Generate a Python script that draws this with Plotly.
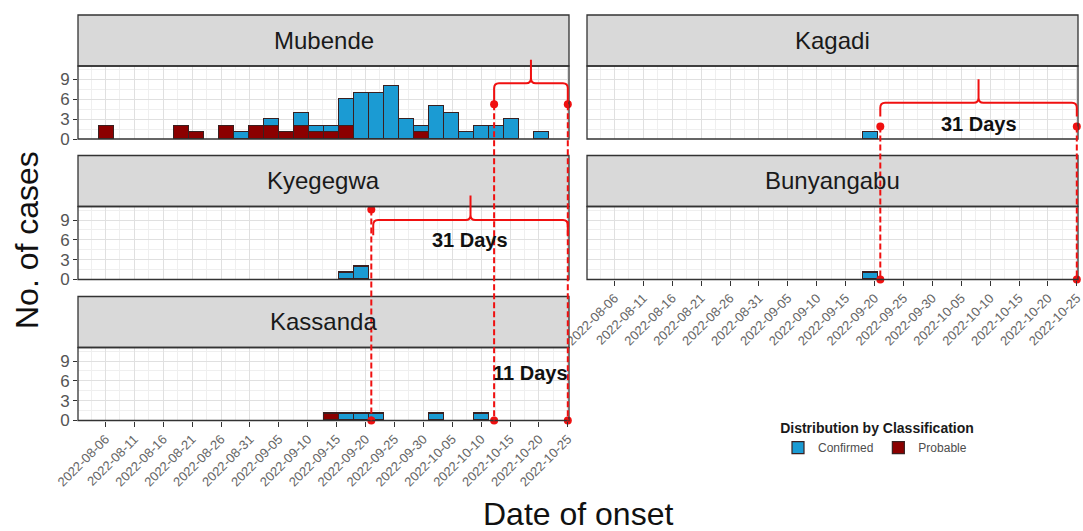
import numpy as np
import pandas as pd
import plotly.graph_objects as go

# ---------------- data ----------------
BIN_FIRST_CENTER = "2022-08-06 02:24"
BIN_WIDTH_DAYS = 2.6
N_BINS = 30

mubende_confirmed = [0, 0, 0, 0, 0, 0, 0, 0, 0, 1, 0, 1, 0, 2, 1, 1, 4, 7, 7, 8, 3, 1, 5, 4, 1, 2, 2, 3, 0, 1]
mubende_probable = [2, 0, 0, 0, 0, 2, 1, 0, 2, 0, 2, 2, 1, 2, 1, 1, 2, 0, 0, 0, 0, 1, 0, 0, 0, 0, 0, 0, 0, 0]
kagadi_confirmed = [0, 0, 0, 0, 0, 0, 0, 0, 0, 0, 0, 0, 0, 0, 0, 0, 0, 1, 0, 0, 0, 0, 0, 0, 0, 0, 0, 0, 0, 0]
kagadi_probable = [0] * 30
kyegegwa_confirmed = [0, 0, 0, 0, 0, 0, 0, 0, 0, 0, 0, 0, 0, 0, 0, 0, 1, 2, 0, 0, 0, 0, 0, 0, 0, 0, 0, 0, 0, 0]
kyegegwa_probable = [0] * 30
bunyangabu_confirmed = [0, 0, 0, 0, 0, 0, 0, 0, 0, 0, 0, 0, 0, 0, 0, 0, 0, 1, 0, 0, 0, 0, 0, 0, 0, 0, 0, 0, 0, 0]
bunyangabu_probable = [0] * 30
kassanda_confirmed = [0, 0, 0, 0, 0, 0, 0, 0, 0, 0, 0, 0, 0, 0, 0, 0, 1, 1, 1, 0, 0, 0, 1, 0, 0, 1, 0, 0, 0, 0]
kassanda_probable = [0, 0, 0, 0, 0, 0, 0, 0, 0, 0, 0, 0, 0, 0, 0, 1, 0, 0, 0, 0, 0, 0, 0, 0, 0, 0, 0, 0, 0, 0]

districts = ["Mubende", "Kagadi", "Kyegegwa", "Bunyangabu", "Kassanda"]
confirmed = {"Mubende": mubende_confirmed, "Kagadi": kagadi_confirmed, "Kyegegwa": kyegegwa_confirmed,
             "Bunyangabu": bunyangabu_confirmed, "Kassanda": kassanda_confirmed}
probable = {"Mubende": mubende_probable, "Kagadi": kagadi_probable, "Kyegegwa": kyegegwa_probable,
            "Bunyangabu": bunyangabu_probable, "Kassanda": kassanda_probable}

# markers at the ends of the dashed reference lines
marker_dates = {"Mubende": ["2022-10-12 06:00", "2022-10-25"],
                "Kyegegwa": ["2022-09-21"],
                "Kassanda": ["2022-09-21", "2022-10-12 06:00", "2022-10-25"],
                "Kagadi": ["2022-09-21", "2022-10-25"],
                "Bunyangabu": ["2022-09-21", "2022-10-25"]}
marker_values = {"Mubende": [5.25, 5.25], "Kyegegwa": [10.6], "Kassanda": [0, 0, 0],
                 "Kagadi": [1.9, 1.9], "Bunyangabu": [0, 0]}

# dashed vertical lines: date, top panel, top value, bottom panel
line_dates = ["2022-09-21", "2022-10-12 06:00", "2022-10-25", "2022-09-21", "2022-10-25"]
line_top_panel = ["Kyegegwa", "Mubende", "Mubende", "Kagadi", "Kagadi"]
line_top_value = [10.6, 5.25, 5.25, 1.9, 1.9]
line_bottom_panel = ["Kassanda", "Kassanda", "Kassanda", "Bunyangabu", "Bunyangabu"]

# brackets: panel, start, end, arm end value, bar value, peak value
bracket_panel = ["Mubende", "Kyegegwa", "Kagadi"]
bracket_start = ["2022-10-12 06:00", "2022-09-21 08:00", "2022-09-21"]
bracket_end = ["2022-10-25", "2022-10-25", "2022-10-25"]
bracket_arm = [5.65, 6.7, 3.4]
bracket_bar = [8.45, 9.0, 5.5]
bracket_peak = [12.0, 12.7, 9.05]

# interval labels
label_panel = ["Kyegegwa", "Kagadi", "Kassanda"]
label_text = ["31 Days", "31 Days", "11 Days"]
label_date = ["2022-10-08", "2022-10-08", "2022-10-18 15:00"]
label_value = [6.0, 2.2, 7.2]

# ---------------- styling / layout ----------------
W, H = 1083, 531
FONT = "Liberation Sans, Arial, sans-serif"
C_CONF = "#1b9bd3"
C_PROB = "#8b0000"
C_EDGE = "#3a2020"
RED = "#f01010"
GRID_MAJOR = "#e0e0e0"
GRID_MINOR = "#efefef"
XRANGE = ["2022-08-01 06:00", "2022-10-25 05:00"]
YRANGE = [0, 11.05]
TICK0 = "2022-08-06"
DAY_MS = 86400000

col_px = {"left": (78, 569), "right": (587, 1078)}
row_px = {1: (66, 139), 2: (206.5, 279.5), 3: (347.5, 420.5)}
STRIP_H = 51

panel_pos = {"Mubende": ("left", 1), "Kagadi": ("right", 1), "Kyegegwa": ("left", 2),
             "Bunyangabu": ("right", 2), "Kassanda": ("left", 3)}
axis_id = {"Mubende": "", "Kagadi": "2", "Kyegegwa": "3", "Bunyangabu": "4", "Kassanda": "5"}
bottom_panels = {"Kassanda", "Bunyangabu"}
left_panels = {"Mubende", "Kyegegwa", "Kassanda"}


def xdom(p):
    a, b = col_px[panel_pos[p][0]]
    return [a / W, b / W]


def ydom(p):
    t, b = row_px[panel_pos[p][1]]
    return [1 - b / H, 1 - t / H]


def ypaper(p, v):
    d0, d1 = ydom(p)
    return d0 + (v - YRANGE[0]) / (YRANGE[1] - YRANGE[0]) * (d1 - d0)


centers = pd.Timestamp(BIN_FIRST_CENTER) + pd.to_timedelta(np.arange(N_BINS) * BIN_WIDTH_DAYS, unit="D")
bar_width_ms = BIN_WIDTH_DAYS * DAY_MS

fig = go.Figure()
shown = set()
for p in districts:
    aid = axis_id[p]
    for name, series, color, rank in [("Probable", probable[p], C_PROB, 2), ("Confirmed", confirmed[p], C_CONF, 1)]:
        yv = [v if v else None for v in series]
        fig.add_trace(go.Bar(
            x=centers, y=yv, width=bar_width_ms, name=name, legendgroup=name, legendrank=rank,
            showlegend=(name not in shown and any(series)),
            marker=dict(color=color, line=dict(color=C_EDGE, width=1.2)),
            xaxis="x" + aid, yaxis="y" + aid, hoverinfo="skip"))
        if any(series):
            shown.add(name)
    fig.add_trace(go.Scatter(
        x=marker_dates[p], y=marker_values[p], mode="markers", cliponaxis=False, showlegend=False,
        marker=dict(color=RED, size=8), xaxis="x" + aid, yaxis="y" + aid, hoverinfo="skip"))

layout = dict(
    width=W, height=H, margin=dict(l=0, r=0, t=0, b=0, autoexpand=False),
    paper_bgcolor="white", plot_bgcolor="white", barmode="stack", bargap=0,
    font=dict(family=FONT, color="#1a1a1a"),
    legend=dict(orientation="h", x=877 / W, xanchor="center", y=1 - 415 / H, yanchor="top",
                title=dict(text="<b>Distribution by Classification</b>", side="top center",
                           font=dict(size=14, color="#1a1a1a")),
                font=dict(size=12, color="#4d4d4d"), itemwidth=30, bgcolor="rgba(0,0,0,0)"),
    showlegend=True,
)

shapes = []
annotations = []
for p in districts:
    aid = axis_id[p]
    bottom = p in bottom_panels
    left = p in left_panels
    layout["xaxis" + aid] = dict(
        domain=xdom(p), anchor="y" + aid, type="date", range=XRANGE, tick0=TICK0, dtick=5 * DAY_MS,
        tickformat="%Y-%m-%d", tickangle=-45, showgrid=True, gridcolor=GRID_MAJOR, gridwidth=1,
        minor=dict(tick0=TICK0, dtick=2.5 * DAY_MS, showgrid=True, gridcolor=GRID_MINOR, gridwidth=0.8),
        zeroline=False, showline=False, ticks="outside" if bottom else "", ticklen=5, tickwidth=1.2,
        tickcolor="#333333", showticklabels=bottom, tickfont=dict(size=13, color="#666666", family=FONT),
        ticklabeloverflow="allow", automargin=False, fixedrange=True)
    layout["yaxis" + aid] = dict(
        domain=ydom(p), anchor="x" + aid, range=YRANGE, tick0=0, dtick=3, showgrid=True,
        gridcolor=GRID_MAJOR, gridwidth=1,
        minor=dict(tick0=0, dtick=1.5, showgrid=True, gridcolor=GRID_MINOR, gridwidth=0.8),
        zeroline=False, showline=False, ticks="outside" if left else "", ticklen=4, tickwidth=1.2,
        tickcolor="#333333", showticklabels=left, tickfont=dict(size=17, color="#555555", family=FONT),
        automargin=False, fixedrange=True)
    xr, yr = "x" + aid + " domain", "y" + aid + " domain"
    plot_h = row_px[panel_pos[p][1]][1] - row_px[panel_pos[p][1]][0]
    # strip
    shapes.append(dict(type="rect", xref=xr, yref=yr, x0=0, x1=1, y0=1, y1=1 + STRIP_H / plot_h,
                       fillcolor="#d9d9d9", line=dict(color="#333333", width=1.3), layer="above"))
    # panel border
    shapes.append(dict(type="rect", xref=xr, yref=yr, x0=0, x1=1, y0=0, y1=1,
                       fillcolor="rgba(0,0,0,0)", line=dict(color="#333333", width=1.3), layer="above"))
    annotations.append(dict(text=p, xref=xr, yref=yr, x=0.5, y=1 + (STRIP_H / 2) / plot_h,
                            showarrow=False, font=dict(size=24, color="#1a1a1a", family=FONT),
                            xanchor="center", yanchor="middle"))

# dashed vertical lines
for d, tp, tv, bp in zip(line_dates, line_top_panel, line_top_value, line_bottom_panel):
    shapes.append(dict(type="line", xref="x" + axis_id[bp], yref="paper", x0=d, x1=d,
                       y0=ypaper(tp, tv), y1=ypaper(bp, 0),
                       line=dict(color=RED, width=2, dash="6px,3px"), layer="above"))


def fx(ts):
    return ts.strftime("%Y-%m-%d_%H:%M:%S")


r = pd.Timedelta(hours=20)
dy = 5 / H
for p, s, e, ya, yb, yp in zip(bracket_panel, bracket_start, bracket_end, bracket_arm, bracket_bar, bracket_peak):
    xs, xe = pd.Timestamp(s), pd.Timestamp(e)
    xc = xs + (xe - xs) / 2
    A, B, P = ypaper(p, ya), ypaper(p, yb), ypaper(p, yp)
    path = (f"M{fx(xs)},{A} L{fx(xs)},{B - dy} Q{fx(xs)},{B} {fx(xs + r)},{B} "
            f"L{fx(xc - r)},{B} Q{fx(xc)},{B} {fx(xc)},{B + dy} L{fx(xc)},{P} "
            f"M{fx(xc)},{B + dy} Q{fx(xc)},{B} {fx(xc + r)},{B} "
            f"L{fx(xe - r)},{B} Q{fx(xe)},{B} {fx(xe)},{B - dy} L{fx(xe)},{A}")
    shapes.append(dict(type="path", xref="x" + axis_id[p], yref="paper", path=path,
                       line=dict(color=RED, width=2), layer="above"))

for p, t, d, v in zip(label_panel, label_text, label_date, label_value):
    annotations.append(dict(text=f"<b>{t}</b>", xref="x" + axis_id[p], yref="y" + axis_id[p], x=d, y=v,
                            showarrow=False, font=dict(size=20, color="#111111", family=FONT),
                            xanchor="center", yanchor="middle"))

# axis titles
annotations.append(dict(text="No. of cases", xref="paper", yref="paper", x=27 / W, y=1 - 240 / H,
                        textangle=-90, showarrow=False, font=dict(size=32, color="#111111", family=FONT),
                        xanchor="center", yanchor="middle"))
annotations.append(dict(text="Date of onset", xref="paper", yref="paper", x=578 / W, y=1 - 514 / H,
                        showarrow=False, font=dict(size=32, color="#111111", family=FONT),
                        xanchor="center", yanchor="middle"))

layout["shapes"] = shapes
layout["annotations"] = annotations
fig.update_layout(**layout)
fig.write_html("out.html", config={"displayModeBar": False},
               post_script="document.body.style.margin='0';")
